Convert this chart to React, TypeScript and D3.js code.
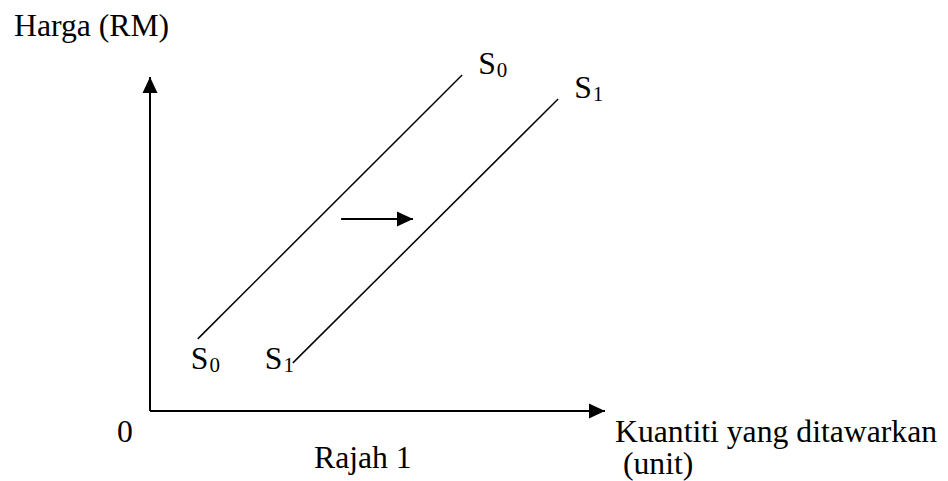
// App.tsx
// supply shift diagram (Rajah 1) drawn with d3 scales
import * as d3 from 'd3';
import React, { useRef, useEffect } from 'react';

const W = 948;
const H = 481;

// curves in abstract units (quantity, price), axes run 0..100
const supplyNames = ["S0", "S1"];
const supplyQ = [[10.5, 68.6], [31.4, 89.7]];
const supplyP = [[21.6, 100.6], [14.4, 93.4]];
// shift arrow between the curves
const shiftQ = [42.0, 57.8];
const shiftP = [57.5, 57.5];

const yTitle = "Harga (RM)";
const xTitle = ["Kuantiti yang ditawarkan", " (unit)"];
const caption = "Rajah 1";
const originLabel = "0";

const FONT = "'Times New Roman', 'Liberation Serif', serif";
const FS = 31.7;

function App() {
    const ref = useRef<SVGSVGElement>(null);

    useEffect(() => {
        const svg = d3.select(ref.current);
        svg.selectAll("*").remove();

        var x = d3.scaleLinear().domain([0, 100]).range([150, 605]);
        var y = d3.scaleLinear().domain([0, 100]).range([411, 77]);

        var defs = svg.append("defs");
        defs.append("marker")
            .attr("id", "head")
            .attr("viewBox", "0 0 16 16")
            .attr("refX", 16)
            .attr("refY", 8)
            .attr("markerWidth", 16)
            .attr("markerHeight", 16)
            .attr("markerUnits", "userSpaceOnUse")
            .attr("orient", "auto")
            .append("path")
            .attr("d", "M0,0.5 L16,8 L0,15.5 Z")
            .attr("fill", "black");

        // axes
        svg.append("line")
            .attr("x1", x(0)).attr("y1", y(0))
            .attr("x2", x(0)).attr("y2", y(100))
            .attr("stroke", "black").attr("stroke-width", 2)
            .attr("marker-end", "url(#head)");
        svg.append("line")
            .attr("x1", x(0)).attr("y1", y(0))
            .attr("x2", x(100)).attr("y2", y(0))
            .attr("stroke", "black").attr("stroke-width", 2)
            .attr("marker-end", "url(#head)");

        // supply curves
        const line = d3.line<[number, number]>()
            .x(d => x(d[0]))
            .y(d => y(d[1]));
        supplyNames.forEach((name, i) => {
            const pts: [number, number][] = supplyQ[i].map((q, j) => [q, supplyP[i][j]]);
            svg.append("path")
                .attr("d", line(pts))
                .attr("fill", "none")
                .attr("stroke", "black")
                .attr("stroke-width", 1.5);

            // labels at both ends
            const lo = pts[0], hi = pts[1];
            const sub = name.slice(1);
            const addLabel = (px: number, py: number) => {
                const t = svg.append("text")
                    .attr("x", px).attr("y", py)
                    .attr("font-family", FONT)
                    .attr("font-size", FS)
                    .attr("fill", "black");
                t.append("tspan").text("S");
                t.append("tspan").attr("font-size", 21).attr("dx", 1).attr("dy", 3).text(sub);
            };
            addLabel(x(hi[0]) + 16, y(hi[1]) - 1);
            addLabel(x(lo[0]) - (i == 0 ? 7 : 28), y(lo[1]) + (i == 0 ? 30 : 6));
        });

        // shift arrow
        svg.append("line")
            .attr("x1", x(shiftQ[0])).attr("y1", y(shiftP[0]))
            .attr("x2", x(shiftQ[1])).attr("y2", y(shiftP[1]))
            .attr("stroke", "black").attr("stroke-width", 2)
            .attr("marker-end", "url(#head)");

        // text
        const txt = (s: string, px: number, py: number) =>
            svg.append("text")
                .attr("x", px).attr("y", py)
                .attr("font-family", FONT)
                .attr("font-size", FS)
                .attr("fill", "black")
                .style("white-space", "pre")
                .text(s);
        txt(yTitle, 14, 36);
        txt(originLabel, 117, 442);
        txt(caption, 314, 468);
        txt(xTitle[0], 615, 442);
        txt(xTitle[1], 615, 474);
    }, []);

    return (
        <svg ref={ref} width={W} height={H}
            style={{ position: "absolute", left: 0, top: 0, background: "white" }}>
        </svg>
    );
}

export default App;
